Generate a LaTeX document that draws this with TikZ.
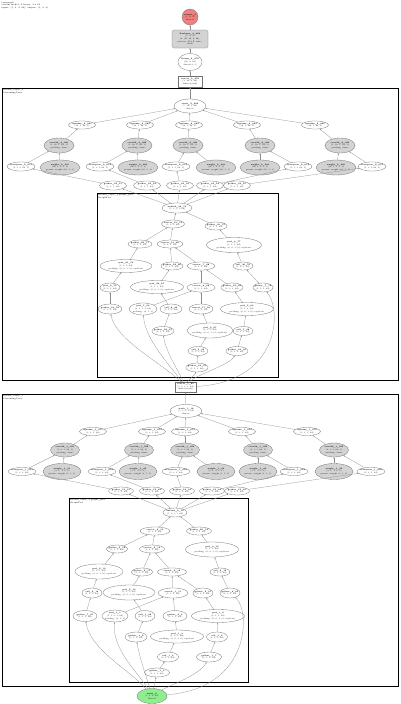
\documentclass[tikz,border=0pt]{standalone}
\usetikzlibrary{shapes.geometric,arrows.meta}
\definecolor{redn}{RGB}{240,128,128}
\definecolor{greenn}{RGB}{144,238,144}
\definecolor{grayn}{RGB}{211,211,211}
\newcommand{\nd}[7]{\node[#1, minimum width=#5pt, minimum height=#6pt] (#2) at (#3,#4) {#7};}
\begin{document}
\begin{tikzpicture}[x=1pt,y=-1pt,
  base/.style={draw=black!55, line width=0.3pt, inner sep=0pt, align=center, font=\fontsize{1.9}{2.6}\selectfont},
  el/.style={base, ellipse, inner xsep=-1.2pt, inner ysep=-0.6pt},
  gel/.style={el, fill=grayn},
  bx/.style={base, rectangle},
  clus/.style={draw=black, line width=0.6pt},
  clab/.style={anchor=north west, inner sep=0.5pt, align=left, font=\fontsize{2.1}{2.7}\selectfont},
  ed/.style={draw=black!45, line width=0.25pt, -{Stealth[length=1.6pt,width=1.3pt]}}
]
\useasboundingbox (0,0) rectangle (400,704);
\fill[white] (0,0) rectangle (400,704);

% header
\node[clab] (hdr) at (1,1) {tvmgraph\\stream model: 2 layers, 3 x 64\\input: (1, 3, 4, 64); output: (1, 4, 4)};

% top chain
\node[base, circle, fill=redn, minimum size=16pt, inner sep=-1pt] (out) at (190,17) {\textbf{output\_0}\\(1, 4, 4)\\float32};
\nd{bx, rounded corners=1.5pt, fill=grayn}{rs}{190}{39}{36}{18}{\textbf{Reshape\_3\_080}\\(1, 4, 4)\\(x: (B, 16, 4, 64),\\pattern: B 4 F, size=\\1024)}
\nd{el}{us}{190}{62}{24}{17}{\textbf{Unsqz\_5\_079}\\(16, 4, 64)\\dims=[2, 3]}
\nd{bx}{cc}{190}{81.5}{24}{11}{\textbf{concat\_2\_078}\\(1, 16, 4, 64)\\dims=[stack]}

% ================= cluster 1 =================
\draw[clus] (2,88) rectangle (398,380);
\node[clab] (cl1) at (2.5,88.5) {stream\_layer\_2\\StreamingConv};
\nd{el}{sA}{190}{106}{32}{14}{\textbf{stack\_2\_069}\\(5, 16, 1, 64)\\dim=0}
\foreach \n/\x in {1/82,2/140,3/189,4/247,5/315}{
  \nd{el}{ua\n}{\x}{125}{27}{8}{\textbf{squeeze\_2\_06\n}\\(16, 1, 64, 1)}
}
\foreach \n/\x in {1/59,2/137,3/188,4/260,5/340}{
  \nd{gel}{ca\n}{\x}{145.5}{30}{15}{\textbf{conv2d\_2\_06\n}\\(1, 16, 1, 64, 1)\\padding: Same}
}
\foreach \n/\x in {1/21,2/100,3/176,4/298,5/372}{
  \nd{el}{ta\n}{\x}{166.5}{27}{9}{\textbf{transpose\_2\_01\n}\\(1, 3, 1, 64, 1)}
}
\foreach \n/\x in {1/60,2/138,3/216,4/260,5/336}{
  \nd{gel}{ka\n}{\x}{167.5}{40}{15}{\textbf{weight\_2\_00\n}\\(16, 1, 3, 1, 1)\\param: weight (16, 1, 3)}
}
\foreach \n/\x in {1/113,2/147,3/180,4/210,5/237}{
  \nd{el}{ga\n}{\x}{185.5}{27}{9}{\textbf{gather\_32\_5\n}\\(1, 3, 1, 64)}
}
\foreach \n in {1,...,5}{
  \draw[ed] (ua\n) -- (sA);
  \draw[ed] (ca\n) -- (ua\n);
  \draw[ed] (ta\n) -- (ca\n);
  \draw[ed] (ka\n) -- (ca\n);
  \draw[ed] (ga\n) -- (ta\n);
}
\draw[ed] (sA) -- (cc);
\draw[ed] (cc) -- (us);
\draw[ed] (us) -- (rs);
\draw[ed] (rs) -- (out);

% inner cluster 1
\draw[clus] (97,193) rectangle (278,377);
\node[clab] (cl1i) at (97.5,193.5) {stream\_layer\_2.graph\_pad\\GraphPad};
\nd{el}{iA}{177}{208}{30}{10}{\textbf{unbind\_32\_73}\\(5, 1, 3, 1, 64)}
\nd{el}{A}{173}{224}{23}{8}{\textbf{concat\_21\_74}\\(1, 3, 1, 64)}
\nd{el}{B}{216}{226}{22}{8}{\textbf{gather\_30\_75}\\(1, 1, 1, 64)}
\nd{el}{C}{140}{244}{24}{8}{\textbf{gather\_22\_77}\\(1, 1, 1, 64)}
\nd{el}{D}{170}{244}{26}{8}{\textbf{concat\_21\_80}\\(1, 2, 1, 64)}
\nd{el}{E}{234}{245}{55}{15}{\textbf{pad\_3\_77}\\(1, 1, 1, 64)\\padding: (0, 0, 1, 0), replicate}
\nd{el}{F}{126}{266}{52}{13}{\textbf{pad\_21\_79}\\(1, 1, 1, 64)\\padding: (0, 0, 1, 0), replicate}
\nd{el}{G}{172}{266}{21}{8}{\textbf{gather\_22\_80}\\(1, 1, 1, 64)}
\nd{el}{H}{201}{266}{28}{8}{\textbf{concat\_7\_88}\\(1, 1, 1, 64)}
\nd{el}{I}{243}{266}{20}{8}{\textbf{cell\_20\_78}\\(1, 1, 1, 64)}
\nd{el}{J}{110}{287.5}{20}{9}{\textbf{pad\_2\_75}\\(1, 1, 1, 64)}
\nd{el}{K}{157}{287}{53}{13}{\textbf{pad\_20\_67}\\(1, 1, 1, 64)\\padding: (0, 0, 1, 0), replicate}
\nd{el}{L}{201}{287.5}{28}{9}{\textbf{concat\_6\_68}\\(1, 1, 1, 64)}
\nd{el}{M}{232}{287.5}{21}{9}{\textbf{gather\_18\_69}\\(1, 1, 1, 64)}
\nd{el}{N}{263}{287.5}{20}{9}{\textbf{gather\_7\_76}\\(1, 1, 1, 64)}
\nd{el}{O}{110}{309}{24}{10}{\textbf{gather\_18\_78}\\(1, 1, 1, 64)}
\nd{el}{P}{143}{309}{28}{12}{\textbf{pad\_7\_54}\\(1, 1, 1, 1, 64)\\padding: (0, 1, 1)}
\nd{el}{Q}{171}{309}{22}{10}{\textbf{cell\_8\_60}\\(1, 1, 1, 64)}
\nd{el}{R}{201}{309}{24}{10}{\textbf{concat\_17\_59}\\(1, 1, 1, 64)}
\nd{el}{S}{247}{309}{53}{13}{\textbf{pad\_5\_63}\\(1, 1, 1, 64)\\padding: (0, 0, 1, 0), replicate}
\nd{el}{T}{163}{331}{20}{9}{\textbf{gather\_28\_67}\\(1, 1, 1, 64)}
\nd{el}{U}{210}{330.5}{46}{15}{\textbf{pad\_9\_67}\\(1, 1, 1, 64)\\padding: (0, 0, 1, 0), replicate}
\nd{el}{V}{243}{331}{20}{9}{\textbf{cell\_7\_08}\\(1, 1, 1, 64)}
\nd{el}{W}{198}{351}{20}{9}{\textbf{cell\_5\_09}\\(1, 1, 1, 64)}
\nd{el}{X}{237}{351}{20}{9}{\textbf{gather\_18\_03}\\(1, 1, 1, 64)}
\nd{el}{Y}{197}{367.5}{21}{9}{\textbf{gather\_18\_07}\\(1, 1, 1, 64)}
\foreach \n in {1,...,5}{ \draw[ed] (iA) -- (ga\n); }
\foreach \s/\t in {A/iA,B/iA,C/A,D/A,E/B,F/C,G/D,H/D,I/E,J/F,K/G,L/H,M/H,N/I,O/J,Q/K,P/L,R/L,S/M,T/Q,U/R,V/S,W/U,X/V,Y/W}{
  \draw[ed] (\s) -- (\t);
}

% between clusters
\nd{bx}{cr}{185.5}{387}{21}{10}{\textbf{concat\_1\_80}\\(5, 1, 3, 1, 64)\\dims=[stack]}
\draw[ed] (cr) .. controls (165,365) and (115,340) .. (O);
\draw[ed] (cr) .. controls (170,365) and (145,340) .. (P);
\draw[ed] (cr) .. controls (178,370) and (165,350) .. (T);
\draw[ed] (cr) .. controls (188,380) and (195,375) .. (Y);
\draw[ed] (cr) .. controls (195,375) and (230,365) .. (X);
\draw[ed] (cr) .. controls (280,382) and (282,310) .. (N);

% ================= cluster 2 =================
\draw[clus] (2,394) rectangle (398,686);
\node[clab] (cl2) at (2.5,394.5) {stream\_layer\_1\\StreamingConv};
\nd{el}{sB}{186}{411}{32}{13}{\textbf{stack\_1\_18}\\(5, 1, 3, 1, 64)\\dim=0}
\foreach \n/\x in {1/93,2/152,3/185,4/242,5/307}{
  \nd{el}{ub\n}{\x}{431.5}{27}{8}{\textbf{squeeze\_1\_07\n}\\(1, 3, 1, 64)}
}
\foreach \n/\x in {1/65,2/139,3/185,4/258,5/334}{
  \nd{gel}{cb\n}{\x}{450}{29}{14}{\textbf{conv2d\_1\_05\n}\\(1, 3, 1, 64, 1)\\padding: Same}
}
\foreach \n/\x in {1/22,2/102,3/176,4/294,5/371}{
  \nd{el}{tb\n}{\x}{471.5}{26}{8}{\textbf{transpose\_1\_05\n}\\(1, 3, 1, 64)}
}
\foreach \n/\x in {1/62,2/138,3/216,4/258,5/334}{
  \nd{gel}{kb\n}{\x}{471.5}{38}{16}{\textbf{weight\_1\_0\n}\\(3, 1, 3, 1, 1)\\param: weight (3, 1, 3)}
}
\foreach \n/\x in {1/121,2/152,3/182,4/212,5/237}{
  \nd{el}{gb\n}{\x}{491}{25}{8}{\textbf{gather\_12\_4\n}\\(1, 3, 1, 64)}
}
\foreach \n in {1,...,5}{
  \draw[ed] (ub\n) -- (sB);
  \draw[ed] (cb\n) -- (ub\n);
  \draw[ed] (tb\n) -- (cb\n);
  \draw[ed] (kb\n) -- (cb\n);
  \draw[ed] (gb\n) -- (tb\n);
}
\draw[ed] (sB) -- (cr);

% inner cluster 2
\draw[clus] (69,498) rectangle (248,682);
\node[clab] (cl2i) at (69.5,498.5) {stream\_layer\_1.graph\_pad\\GraphPad};
\nd{el}{iB}{175}{512.5}{24}{9}{\textbf{unbind\_2\_10}\\(5, 1, 3, 1, 64)}
\nd{el}{A2}{155}{531}{30}{8}{\textbf{concat\_2\_10}\\(1, 3, 1, 64)}
\nd{el}{B2}{199}{531}{25}{8}{\textbf{gather\_20\_12}\\(1, 1, 1, 64)}
\nd{el}{C2}{117}{549}{21}{8}{\textbf{gather\_2\_12}\\(1, 1, 1, 64)}
\nd{el}{D2}{152}{549}{25}{8}{\textbf{concat\_2\_15}\\(1, 2, 1, 64)}
\nd{el}{E2}{212}{549.5}{53}{15}{\textbf{pad\_0\_10}\\(1, 1, 1, 64)\\padding: (0, 0, 1, 0), replicate}
\nd{el}{F2}{99}{571.5}{48}{15}{\textbf{pad\_2\_10}\\(1, 1, 1, 64)\\padding: (0, 0, 1, 0), replicate}
\nd{el}{G2}{142}{572}{21}{8}{\textbf{gather\_2\_17}\\(1, 1, 1, 64)}
\nd{el}{H2}{172}{572}{29}{8}{\textbf{concat\_2\_18}\\(1, 1, 1, 64)}
\nd{el}{I2}{220}{572}{20}{8}{\textbf{cell\_2\_15}\\(1, 1, 1, 64)}
\nd{el}{J2}{92}{593}{20}{10}{\textbf{cell\_2\_14}\\(1, 1, 1, 64)}
\nd{el}{K2}{129}{592.5}{52}{15}{\textbf{pad\_2\_10}\\(1, 1, 1, 64)\\padding: (0, 0, 1, 0), replicate}
\nd{el}{L2}{173}{593}{30}{10}{\textbf{concat\_1\_11}\\(1, 1, 1, 64)}
\nd{el}{M2}{203}{593}{20}{10}{\textbf{gather\_2\_07}\\(1, 1, 1, 64)}
\nd{el}{N2}{230}{593}{20}{10}{\textbf{gather\_6\_05}\\(1, 1, 1, 64)}
\nd{el}{O2}{85}{616}{24}{11}{\textbf{gather\_7\_07}\\(1, 1, 1, 64)}
\nd{el}{P2}{115}{616}{26}{12}{\textbf{pad\_1\_1}\\(1, 1, 1, 1, 64)\\padding: (0, 1, 1)}
\nd{el}{Q2}{145}{616}{20}{11}{\textbf{cell\_1\_02}\\(1, 1, 1, 64)}
\nd{el}{R2}{175}{616}{24}{11}{\textbf{gather\_2\_3}\\(1, 1, 1, 64)}
\nd{el}{S2}{218}{616}{53}{13}{\textbf{pad\_1\_6}\\(1, 1, 1, 64)\\padding: (0, 0, 1, 0), replicate}
\nd{el}{T2}{136}{637}{22}{10}{\textbf{gather\_1\_2}\\(1, 1, 1, 64)}
\nd{el}{U2}{177}{636.5}{53}{13}{\textbf{pad\_1\_4}\\(1, 1, 1, 64)\\padding: (0, 0, 1, 0), replicate}
\nd{el}{V2}{217}{637}{21}{10}{\textbf{cell\_1\_6}\\(1, 1, 1, 64)}
\nd{el}{W2}{168}{657}{21}{10}{\textbf{cell\_1\_3}\\(1, 1, 1, 64)}
\nd{el}{X2}{209}{657}{25}{10}{\textbf{gather\_1\_7}\\(1, 1, 1, 64)}
\nd{el}{Y2}{157}{672.5}{25}{9}{\textbf{gather\_1\_3}\\(1, 1, 1, 64)}
\foreach \n in {1,...,5}{ \draw[ed] (iB) -- (gb\n); }
\foreach \s/\t in {A2/iB,B2/iB,C2/A2,D2/A2,E2/B2,F2/C2,G2/D2,H2/D2,I2/E2,J2/F2,K2/G2,L2/H2,M2/H2,N2/I2,O2/J2,Q2/K2,P2/L2,R2/L2,S2/M2,T2/Q2,U2/R2,V2/S2,W2/U2,X2/V2,Y2/W2}{
  \draw[ed] (\s) -- (\t);
}

% input
\nd{el, fill=greenn}{inp}{152}{696}{30}{15}{\textbf{input\_0}\\(1, 3, 4, 64)\\float32}
\draw[ed] (inp) .. controls (130,670) and (90,650) .. (O2);
\draw[ed] (inp) .. controls (138,672) and (112,650) .. (P2);
\draw[ed] (inp) .. controls (146,675) and (140,660) .. (T2);
\draw[ed] (inp) -- (Y2);
\draw[ed] (inp) .. controls (170,685) and (200,675) .. (X2);
\draw[ed] (inp) .. controls (252,688) and (250,610) .. (N2);
\end{tikzpicture}
\end{document}
